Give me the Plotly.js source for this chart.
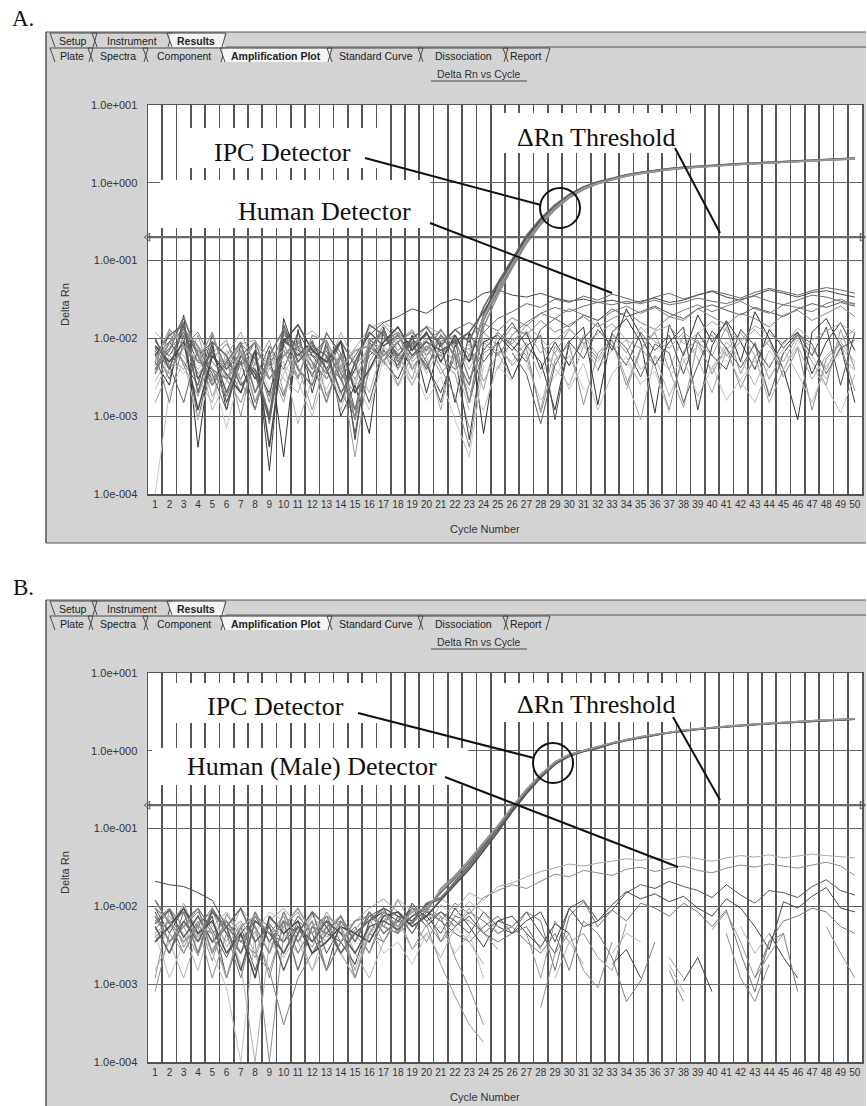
<!DOCTYPE html>
<html>
<head>
<meta charset="utf-8">
<script src="https://cdn.plot.ly/plotly-3.0.1.min.js"></script>
<style>
html,body{margin:0;padding:0;background:#ffffff;}
#chart{width:867px;height:1106px;}
</style>
</head>
<body>
<div id="chart"></div>
<script>
// ---------- categories / ticks ----------
const cycles = ["1","2","3","4","5","6","7","8","9","10","11","12","13","14","15","16","17","18","19","20",
"21","22","23","24","25","26","27","28","29","30","31","32","33","34","35","36","37","38","39","40",
"41","42","43","44","45","46","47","48","49","50"];
const yTickVals = [0.0001, 0.001, 0.01, 0.1, 1, 10];
const yTickText = ["1.0e-004","1.0e-003","1.0e-002","1.0e-001","1.0e+000","1.0e+001"];
const thresholdA = 0.2;
const thresholdB = 0.2;

// ---------- Panel A : Human detector / background wells ----------
const A_h1 = [.008,.006,.012,.005,.004,.003,.005,.004,.002,.009,
 .007,.006,.005,.003,.006,.011,.016,.019,.024,.021,
 .028,.032,.029,.038,.042,.036,.034,.038,.033,.030,
 .032,.029,.031,.028,.030,.033,.029,.031,.036,.040,
 .034,.031,.036,.042,.038,.034,.039,.041,.037,.034];
const A_h2 = [.004,.009,.018,.006,.003,.005,.002,.006,.0008,.012,
 .008,.004,.007,.002,.001,.009,.012,.007,.010,.006,
 .011,.008,.005,.009,.006,.011,.016,.021,.025,.022,
 .026,.029,.027,.030,.028,.031,.027,.029,.033,.030,
 .028,.032,.035,.030,.027,.031,.036,.034,.030,.028];
const A_h3 = [.007,.003,.011,.0009,.006,.004,.008,.003,.005,.0018,
 .009,.005,.003,.006,.0012,.007,.005,.009,.004,.008,
 .006,.010,.003,.007,.012,.008,.005,.013,.018,.014,
 .020,.017,.024,.019,.022,.026,.021,.018,.024,.027,
 .023,.020,.025,.022,.019,.024,.028,.025,.029,.026];
const A_n4 = [.005,.0025,.02,.0004,.008,.0015,.005,.0012,.007,.0003,
 .013,.002,.009,.001,.0025,.0006,.014,.004,.011,.002,
 .009,.0015,.012,.0006,.009,.003,.008,.005,.0012,.009,
 .014,.0014,.012,.018,.009,.0011,.015,.006,.020,.009,
 .016,.005,.022,.010,.004,.0009,.012,.018,.008,.0015];
const A_n5 = [.009,.006,.004,.011,.003,.0055,.001,.007,.004,.008,
 .0045,.0012,.006,.004,.0003,.005,.010,.0065,.003,.012,
 .005,.0035,.0007,null,.004,.010,.006,.0012,.008,.0045,
 .011,.006,null,.0022,.007,.012,.004,.0013,.009,.006,
 .014,.0035,.009,.003,.0065,.011,.005,.0025,.013,.004];
const A_n6 = [.012,.008,.006,.003,.0015,.007,.004,.009,.006,.003,
 .002,.007,.0035,.012,.005,.002,.008,.005,.0025,.006,
 .0012,.009,.004,.010,.0065,.003,null,.009,.004,.0025,
 .008,.005,.0095,.003,.0009,.006,.004,.011,.0055,.002,
 .007,.012,.006,.0015,.004,.008,.003,.006,.009,.005];
const A_n7 = [.0075,.004,.014,.006,.009,.0012,.006,.009,.0002,.018,
 .005,.0075,.004,.0095,.0005,.009,.005,.003,.008,.0045,
 .002,.006,.0005,.009,.011,.007,.012,.004,.009,.0045,
 .010,.016,.007,.024,.011,.0045,.009,.014,.0012,.008,
 .017,.009,.004,.013,.0075,.012,.0035,.009,.016,.007];
const A_n8 = [.006,.0035,.008,.012,.005,.003,.0015,.005,.003,.006,
 .010,.004,.012,.0055,.003,.007,.015,.009,.013,.006,
 .009,.011,.006,.012,.008,.014,.011,.017,.012,.015,
 .019,.014,.018,.022,.016,.013,.019,.017,.024,.019,
 .015,.021,.018,.014,.020,.023,.017,.021,.026,.019];
const A_n9 = [.0028,.006,.009,.004,.007,.0045,.008,.002,.004,.005,
 .0008,.003,.006,.0012,.005,.010,.007,.004,.009,.0035,
 .008,.005,.0012,null,.007,.005,.009,.003,null,.005,
 .0085,.004,.007,.0095,.004,.006,.0018,.005,.008,.004,
 .009,.0055,.0025,.007,.004,.0095,.006,.003,.008,.0045];
const A_n10 = [.0045,.0075,.011,.007,.0028,.005,.003,.007,.0045,.011,
 .008,.0065,.0095,.0035,.002,.006,.009,.012,.008,.011,
 .009,.013,.016,.012,.018,.022,.028,.025,.032,.029,
 .035,.031,.037,.033,.029,.034,.038,.032,.036,.041,
 .037,.033,.039,.044,.040,.036,.041,.045,.042,.038];
const A_n11 = [.006,.009,.005,.0025,.011,.004,.0065,.003,.008,.004,
 .012,.006,.0035,.009,.0045,.0015,.007,.0045,.010,.005,
 .0015,.008,.012,.005,.009,.016,.008,.011,.0009,.009,
 .0055,.013,.008,.0045,.012,.007,.011,.0035,.012,.006,
 .004,.013,.008,.0042,.009,.012,.006,.014,.0025,.012];
const A_n12 = [.0015,.004,.0075,.005,.009,.006,.012,.0045,.0095,.002,
 .0055,.0085,.003,.0065,.0025,.0085,.006,.011,.005,.008,
 .0035,.006,.0075,.0022,.012,.0085,.015,.010,.0065,.013,
 .009,.0055,.011,.0065,.014,.009,.0075,.012,.0085,.011,
 .006,.009,.013,.008,.005,.011,.0075,.004,.0095,.013];
const A_n13 = [.0001,.002,.005,.0009,.0035,.0007,.004,.006,.0022,.0045,
 .0028,.001,.0042,.0018,.003,.0012,.0055,.0024,.0048,.0016,
 .0032,.0009,.0003,.0045,null,null,.0048,.0016,.0033,.006,
 .0022,null,null,.005,.0026,.0038,.0011,null,null,.0045,
 .0016,.003,.0052,.002,null,null,.0042,.0024,.0011,.0034];
const A_n14 = [.0065,.0015,.0095,.0035,.0055,.0085,.0045,.0065,.0015,.0095,
 .0065,.0035,.0055,.0095,.0045,.0075,.0115,.0085,.0055,.0095,
 .0125,.0085,.0105,.0155,.0125,.0185,.0145,.021,.018,.024,
 .020,.017,.022,.026,.021,.025,.019,.023,.027,.022,
 .026,.030,.024,.021,.027,.025,.022,.028,.032,.027];
const A_n15 = [.0035,.012,.0045,.0018,.0065,.0095,.0028,.0012,.0055,.0085,
 .0032,.0095,.0018,.0045,.0009,.0038,.0075,.0025,.0062,.0095,
 .0042,.0018,.0004,.0065,.0085,.0045,.0075,.0011,.0052,.0085,
 .0014,.0065,.0095,.0025,.0075,.0045,.0012,.0068,.0095,.0035,
 .0078,.0023,.0058,.0095,.0032,.0075,.0012,.0055,.0085,.0021];
const A_n16 = [.0095,.0045,.0015,.0075,.0035,.0012,.0085,.0055,.0018,.0125,
 .0075,.0032,.0115,.0065,.0006,.0075,.0125,.0055,.0085,.0115,
 .0065,.0095,.0015,.0075,null,.0065,.0035,.0008,.0045,.0095,
 null,.0038,.0115,.0075,.0032,.0085,.0065,.0015,.0045,.0125,
 .0075,.0042,.0085,.0018,.0065,.0115,.0085,.0035,.0075,.0095];
const A_n17 = [.0055,.0085,.0125,.0075,.0018,.0045,.0085,.0095,.0045,.0015,
 .0095,.0125,.0085,.0045,.0075,.0135,.0165,.0115,.0075,.0145,
 .0115,.0055,.0085,.0028,.0065,.0095,.0125,.0065,.0095,.0135,
 .0085,.0115,.0155,.0095,.0075,.0125,.0145,.0085,.0115,.0165,
 .0125,.0095,.0145,.0115,.0085,.0135,.0095,.0125,.0155,.0115];
const A_n18 = [.0022,.0055,.0035,.0075,.0012,.0028,.0065,.0042,.0011,.0035,
 .0075,.0045,.0022,.0055,.0035,.0085,.0045,.0065,.0025,.0075,
 .0095,.0045,.0022,.0012,.0045,.0028,null,.0035,.0065,.0022,
 .0048,.0012,.0035,.0058,.0025,null,.0032,.0055,.0018,.0042,
 .0065,.0028,.0015,.0045,.0072,.0035,.0015,.0045,.0065,.0038];

// ---------- Panel A : IPC detector wells ----------
const A_ipc1 = [.006,.011,.015,.003,.007,.002,.006,.0035,.0009,.010,
 .006,.009,.004,.0015,.005,.012,.008,.011,.006,.009,
 .007,.009,.012,.022,.045,.095,.19,.32,.49,.68,
 .86,1.0,1.12,1.24,1.34,1.43,1.5,1.56,1.61,1.66,
 1.7,1.74,1.77,1.81,1.85,1.89,1.93,1.97,2.01,2.05];
const A_ipc2 = [.004,.007,.019,.006,.0025,.005,.009,.002,.006,.013,
 .004,.0025,.008,.003,.0012,.007,.013,.005,.009,.004,
 .011,.006,.0025,.017,.04,.085,.175,.30,.47,.66,
 .84,.98,1.1,1.22,1.32,1.41,1.48,1.54,1.6,1.65,
 1.69,1.73,1.76,1.8,1.84,1.88,1.92,1.96,2.0,2.04];
const A_ipc3 = [.008,.005,.009,.0012,.006,.0035,.002,.007,.0004,.009,
 .015,.007,.005,.009,.002,.004,.009,.014,.007,.012,
 .005,.011,.005,.02,.05,.10,.20,.34,.51,.70,
 .88,1.02,1.14,1.26,1.36,1.45,1.52,1.58,1.63,1.68,
 1.72,1.76,1.79,1.83,1.87,1.91,1.95,1.99,2.03,2.07];
const A_ipc4 = [.0035,.009,.013,.008,.004,.0018,.005,.009,.003,.006,
 .009,.005,.0015,.006,.0009,.010,.006,.009,.012,.007,
 .013,.007,.0015,.014,.036,.08,.165,.29,.45,.64,
 .82,.97,1.09,1.21,1.31,1.4,1.47,1.54,1.59,1.64,
 1.68,1.72,1.76,1.8,1.83,1.87,1.91,1.95,1.99,2.03];
const A_ipc5 = [.010,.004,.016,.002,.009,.006,.0025,.004,.001,.015,
 .005,.008,.006,.002,.004,.015,.011,.006,.010,.014,
 .008,.013,.009,.025,.052,.105,.21,.35,.52,.71,
 .89,1.03,1.15,1.27,1.37,1.46,1.53,1.59,1.64,1.69,
 1.73,1.77,1.8,1.84,1.88,1.92,1.96,2.0,2.04,2.08];
const A_ipc6 = [.005,.013,.008,.005,.012,.003,.007,.0015,.005,.007,
 .003,.011,.009,.004,.007,.008,.005,.012,.004,.008,
 .006,.004,.006,.019,.043,.09,.18,.31,.48,.67,
 .85,.99,1.11,1.23,1.33,1.42,1.49,1.55,1.6,1.65,
 1.69,1.73,1.77,1.81,1.85,1.89,1.93,1.97,2.01,2.05];

// ---------- Panel B : Human (Male) detector / background wells ----------
const B_h1 = [.007,.005,.011,.004,.009,.003,.006,.0025,.007,.005,
 .0035,.008,.004,.006,.0015,.006,.009,.005,.011,.007,
 .013,.009,.015,.012,.018,.020,.024,.028,.031,.035,
 .033,.036,.038,.041,.039,.042,.040,.044,.041,.038,
 .042,.045,.043,.046,.042,.044,.047,.045,.043,.042];
const B_h2 = [.005,.009,.003,.0065,.002,.008,.004,.0055,.0012,.0065,
 .005,.003,.0075,.0025,.005,.0085,.0055,.012,.006,.009,
 .0065,.011,.008,.013,.016,.019,.017,.021,.026,.024,
 .029,.027,.025,.030,.032,.028,.031,.033,.029,.027,
 .031,.034,.032,.035,.033,.031,.034,.037,.033,.025];
const B_h3 = [.0085,.0035,.0065,.0095,.005,.0022,.0055,.0015,.006,.0035,
 .0075,.0045,.0015,.0065,.0035,.0075,.0095,.0045,.011,.0065,
 .0085,.0055,.0075,.0045,.0065,.0055,.0085,.0045,.0025,.0095,
 .012,.0065,.009,.015,.019,.017,.021,.018,.016,.013,
 .019,.014,.011,.016,.015,.013,.018,.022,.016,.014];
const B_h4 = [.004,.0065,.0025,.006,.0085,.0045,.0012,.0065,.0045,.0075,
 .0025,.0055,.0075,.0035,.0055,.0025,.0065,.0085,.0045,.0095,
 .0035,.0075,.0065,.0045,.0035,.0045,.0085,.0065,.0015,.0075,
 .0115,.0055,.009,.0065,.011,.0095,.0075,.011,.0085,.0055,
 .009,.0025,.0008,.0035,.0065,.0075,.0095,.0085,.0055,.0045];
const B_h5 = [.0012,.009,.0055,.0023,.0085,.0065,.0025,.0048,.0015,.0055,
 .0085,.0035,.0055,.0025,.0045,.0068,.0035,.0075,.0028,.0058,
 .0018,.0007,.0003,.00018,null,null,.0045,.0012,.0065,.0035,
 .0045,.0022,.0015,.006,null,null,.0022,.0012,null,.005,
 .0085,.0035,.0012,.0024,.0045,null,null,.0055,.0025,.0012];
const B_h6 = [.0095,.0045,.0095,.0035,.0075,.0012,.0045,.0075,.0035,.0065,
 .0045,.0085,.0025,.0055,.0045,.0065,.0085,.0065,.0095,.0055,
 .0085,.0065,.0045,.0085,.0055,.0045,.0065,.0085,.0035,.0095,
 .0055,.0065,.0105,.0155,.0125,.0145,.0115,.0135,.0095,.0075,
 .0125,.0095,.0055,.0028,.0115,.0095,.0135,.0175,.0095,.0085];
const B_n7 = [.021,.019,.018,.015,.012,.0055,.0035,.0065,.0045,.0035,
 .0055,.0025,.0045,.0035,.0018,.0065,.0085,.0055,.0095,.0075,
 .0045,.0095,.0055,.003,.0065,.0075,.0045,.003,.006,.0045,
 null,null,.0018,.0028,.0012,null,null,.0011,.0022,.0008,
 null,null,null,.0045,.0022,.0012,null,null,null,null];
const B_n8 = [.0035,.0075,.0045,.0015,.0065,.0035,.0095,.0055,.0025,.0065,
 .0035,.0015,.0055,.0075,.0025,.0045,.0065,.0125,.0085,.0055,
 .0105,.0075,.0115,.0085,.0045,.0055,null,null,.0012,.0035,
 .0018,null,.0025,.0045,.0035,null,.0018,.0008,null,null,
 null,.0055,.0025,.0045,null,null,null,null,null,null];
const B_n9 = [.0008,.0045,.0025,.0055,.0012,.0045,.0065,.0035,.0001,.0045,
 .0025,.0055,.0035,.0065,.0045,.0025,.0085,.0045,.0065,.0035,
 .0075,.0022,.0009,.0003,null,null,null,.0005,.0025,.0045,
 .0015,.0009,.0035,null,null,null,.0015,.0006,null,null,
 .0045,.0012,.0006,.0018,null,null,null,null,null,null];
const B_n10 = [.0055,.0025,.0085,.0055,.0095,.0045,.0025,.0075,.0055,.0025,
 .0065,.0045,.0065,.0025,.0012,.0045,.0035,.0075,.0045,.0085,
 .0065,.0045,.0035,.0055,.0075,.0045,.0055,.0028,null,null,
 null,null,null,null,null,null,null,null,null,null,
 null,null,null,null,null,null,null,null,null,null];
const B_n11 = [.0045,.0012,.0035,.0075,.0025,.0009,.0001,.0045,.0085,.0065,
 .0035,.0075,.0045,.0025,.0012,.0055,.0025,.0035,.0018,.0045,
 .0055,.0025,.0045,.0012,null,null,null,null,null,null,
 null,null,null,null,null,null,null,null,null,null,
 null,null,null,null,null,null,null,null,null,null];
const B_n12 = [.0065,.0095,.0055,.0085,.0045,.0065,.0035,.0025,.0015,.0003,
 .0012,.0025,.0055,.0065,.0035,.0085,.0055,.0045,.0095,.0065,
 .0035,.0055,.0085,.0065,.0045,.0055,.0035,.0025,.0045,.0015,
 .0065,.0045,.0022,.0006,.0011,.0035,null,null,null,null,
 null,null,.0012,.0035,.0045,.0008,null,null,null,null];
const B_n13 = [.0045,.0065,.0095,.0035,.0055,.0085,.0045,.0022,.0065,.0095,
 .0055,.0035,.0085,.0045,.0065,.0095,.0125,.0085,.0065,.0095,
 .0075,.0055,.0095,.0045,.0028,null,null,null,null,null,
 null,null,null,null,null,null,null,null,null,null,
 null,null,null,null,null,null,null,null,null,null];
const B_n14 = [.0015,.0035,.0012,.0045,.0028,.0055,.0018,.0001,.0035,.0022,
 .0045,.0015,.0035,.0055,.0025,.0012,.0035,.0065,.0028,.0045,
 .0022,.0055,.0035,.0018,null,null,null,null,null,null,
 null,null,null,null,null,null,null,null,null,null,
 null,null,null,null,null,null,null,null,null,null];

// ---------- Panel B : IPC detector wells ----------
const B_ipc1 = [.006,.009,.004,.0075,.0035,.0055,.0015,.0065,.0045,.0025,
 .0055,.0035,.0065,.0045,.0025,.0055,.0065,.005,.0075,.0095,
 .015,.023,.037,.062,.105,.185,.31,.49,.71,.89,
 1.01,1.12,1.26,1.39,1.51,1.61,1.73,1.83,1.91,1.99,
 2.06,2.13,2.19,2.26,2.31,2.37,2.43,2.48,2.53,2.57];
const B_ipc2 = [.012,.006,.0085,.0025,.0095,.0045,.0025,.0085,.0035,.0065,
 .0015,.0055,.0045,.0075,.0035,.0085,.0045,.0065,.006,.011,
 .013,.02,.032,.056,.095,.17,.29,.46,.68,.86,
 .99,1.09,1.24,1.37,1.49,1.59,1.71,1.81,1.89,1.97,
 2.04,2.11,2.17,2.24,2.29,2.35,2.41,2.46,2.51,2.55];
const B_ipc3 = [.0035,.0055,.0095,.0045,.0065,.0025,.0045,.0012,.0075,.0045,
 .0065,.0025,.0035,.0055,.0045,.0035,.0075,.0085,.0055,.0075,
 .012,.019,.03,.052,.09,.165,.28,.45,.67,.85,
 .98,1.08,1.23,1.36,1.48,1.58,1.7,1.8,1.88,1.96,
 2.03,2.1,2.16,2.23,2.28,2.34,2.4,2.45,2.5,2.54];
const B_ipc4 = [.0075,.0035,.0055,.0095,.0025,.0065,.0035,.0055,.0025,.0085,
 .0035,.0065,.0015,.0035,.0065,.0075,.0055,.0045,.0095,.0085,
 .017,.025,.04,.066,.11,.19,.32,.50,.72,.90,
 1.02,1.13,1.27,1.4,1.52,1.62,1.74,1.84,1.92,2.0,
 2.07,2.14,2.2,2.27,2.32,2.38,2.44,2.49,2.54,2.58];
const B_ipc5 = [.0055,.0025,.0065,.0035,.0085,.0055,.0095,.0035,.0055,.0015,
 .0045,.0085,.0055,.0025,.0045,.0065,.0095,.0075,.0065,.0105,
 .0125,.021,.034,.058,.098,.175,.295,.47,.69,.87,
 1.0,1.1,1.25,1.38,1.5,1.6,1.72,1.82,1.9,1.98,
 2.05,2.12,2.18,2.25,2.3,2.36,2.42,2.47,2.52,2.56];
const B_ipc6 = [.0095,.0065,.0035,.0055,.0045,.0012,.0055,.0075,.0045,.0055,
 .0095,.0045,.0075,.0055,.0012,.0045,.0085,.0055,.0085,.0095,
 .016,.024,.039,.064,.108,.19,.315,.495,.715,.895,
 1.015,1.125,1.265,1.395,1.515,1.615,1.735,1.835,1.915,1.995,
 2.065,2.135,2.195,2.265,2.315,2.375,2.435,2.485,2.535,2.575];

// ---------- text ----------
const tabsRow1 = ["Setup","Instrument","Results"];
const tabsRow2 = ["Plate","Spectra","Component","Amplification Plot","Standard Curve","Dissociation","Report"];
const plotTitle = "Delta Rn vs Cycle";
const xTitle = "Cycle Number";
const yTitle = "Delta Rn";

// ---------- build ----------
const W = 867, H = 1106;
const X = p => p / W;
const Y = p => 1 - p / H;
const OFF = 568; // vertical offset of panel B
const PL = 148, PR = 862, PT = 105, PB = 494; // plotting area of panel A (px)

const seriesA = [
  [A_h1,'#4a4a4a',1],[A_h2,'#6e6e6e',1],[A_h3,'#5c5c5c',1],[A_n4,'#333333',1],
  [A_n5,'#9a9a9a',1],[A_n6,'#ababab',1],[A_n7,'#3d3d3d',1],[A_n8,'#858585',1],
  [A_n9,'#b8b8b8',1],[A_n10,'#666666',1],[A_n11,'#505050',1],[A_n12,'#9c9c9c',1],
  [A_n13,'#c6c6c6',1],[A_n14,'#7a7a7a',1],[A_n15,'#8e8e8e',1],[A_n16,'#5e5e5e',1],
  [A_n17,'#a2a2a2',1],[A_n18,'#bdbdbd',1],
  [A_ipc1,'#5e5e5e',1.5],[A_ipc2,'#7a7a7a',1.5],[A_ipc3,'#4a4a4a',1.5],
  [A_ipc4,'#8a8a8a',1.5],[A_ipc5,'#666666',1.5],[A_ipc6,'#999999',1.5]
];
const seriesB = [
  [B_h1,'#a8a8a8',1],[B_h2,'#8c8c8c',1],[B_h3,'#555555',1],[B_h4,'#777777',1],
  [B_h5,'#9a9a9a',1],[B_h6,'#4a4a4a',1],[B_n7,'#444444',1],[B_n8,'#b5b5b5',1],
  [B_n9,'#8f8f8f',1],[B_n10,'#6a6a6a',1],[B_n11,'#c2c2c2',1],[B_n12,'#7d7d7d',1],
  [B_n13,'#9e9e9e',1],[B_n14,'#b0b0b0',1],
  [B_ipc1,'#5e5e5e',1.5],[B_ipc2,'#7a7a7a',1.5],[B_ipc3,'#4a4a4a',1.5],
  [B_ipc4,'#8a8a8a',1.5],[B_ipc5,'#666666',1.5],[B_ipc6,'#999999',1.5]
];

const traces = [];
function addSeries(list, xa, ya) {
  list.forEach(s => traces.push({
    type: 'scatter', mode: 'lines', x: cycles, y: s[0], xaxis: xa, yaxis: ya,
    line: {color: s[1], width: s[2]}, connectgaps: false, hoverinfo: 'skip', showlegend: false
  }));
}
addSeries(seriesA, 'x', 'y');
addSeries(seriesB, 'x2', 'y2');

// threshold lines, drawn as traces on hidden numeric axes that overlay the category axes
function addThreshold(val, xa, ya) {
  traces.push({type: 'scatter', mode: 'lines+markers', x: [-0.5, 49.5], y: [val, val], xaxis: xa, yaxis: ya,
    line: {color: '#6a6a6a', width: 2.2}, cliponaxis: false, hoverinfo: 'skip', showlegend: false,
    marker: {symbol: ['triangle-left-open', 'triangle-right-open'], size: 7, color: '#555', line: {width: 1, color: '#555'}}});
}
addThreshold(thresholdA, 'x3', 'y');
addThreshold(thresholdB, 'x4', 'y2');

const sansFont = 'Liberation Sans, Arial, sans-serif';
const serifFont = 'Liberation Serif, Times New Roman, serif';

function xAxis(anchor) {
  return {
    domain: [X(PL), X(PR)], anchor: anchor, type: 'category', categoryarray: cycles,
    range: [-0.5, 49.5], tickson: 'boundaries', tickmode: 'linear', dtick: 1, tickangle: 0,
    showgrid: true, gridcolor: '#555555', gridwidth: 1.7,
    showline: true, mirror: true, linecolor: '#555', linewidth: 1.5,
    ticks: 'outside', ticklen: 5, tickcolor: 'rgba(0,0,0,0)',
    tickfont: {family: sansFont, size: 10, color: '#333'}, fixedrange: true, zeroline: false
  };
}
function xOver(over, anchor) {
  return {overlaying: over, anchor: anchor, type: 'linear', range: [-0.5, 49.5], visible: false,
    showgrid: false, zeroline: false, fixedrange: true};
}
function yAxis(anchor, top, bottom) {
  return {
    domain: [Y(bottom), Y(top)], anchor: anchor, type: 'log', range: [-4, 1],
    tickmode: 'array', tickvals: yTickVals, ticktext: yTickText,
    showgrid: true, gridcolor: '#666666', gridwidth: 1.3,
    showline: true, mirror: true, linecolor: '#555', linewidth: 1.5,
    ticks: 'outside', ticklen: 7, tickcolor: 'rgba(0,0,0,0)',
    tickfont: {family: sansFont, size: 11, color: '#333'}, fixedrange: true, zeroline: false
  };
}

const shapes = [];
const annotations = [];

function rectPx(x0, y0, x1, y1, fill, layer) {
  shapes.push({type: 'rect', xref: 'paper', yref: 'paper', x0: X(x0), x1: X(x1), y0: Y(y1), y1: Y(y0),
    fillcolor: fill, line: {width: 0}, layer: layer || 'above'});
}
function linePx(x0, y0, x1, y1, color, w, layer) {
  shapes.push({type: 'line', xref: 'paper', yref: 'paper', x0: X(x0), y0: Y(y0), x1: X(x1), y1: Y(y1),
    line: {color: color, width: w}, layer: layer || 'above'});
}
function textPx(x, y, txt, size, family, color, xanchor, extra) {
  annotations.push(Object.assign({xref: 'paper', yref: 'paper', x: X(x), y: Y(y), text: txt, showarrow: false,
    xanchor: xanchor || 'center', yanchor: 'middle', font: {family: family, size: size, color: color || '#222'}}, extra || {}));
}
// a tab: top edge, "\" left edge, "/" right edge
function tabPx(xl, xr, top, bottom, active) {
  if (active) rectPx(xl - 2, top + 0.5, xr - 2, bottom, '#f4f4f4', 'below');
  linePx(xl - 5, top, xl, bottom, '#4a4a4a', 1, 'below');
  linePx(xl - 5, top, xr, top, '#4a4a4a', 1, 'below');
  linePx(xr, top, xr - 4, bottom, '#4a4a4a', 1, 'below');
}

function panel(off, letter, cfg) {
  // gray window drawn as bands around the white plotting area
  const gray = '#d3d3d3';
  rectPx(46, 32 + off, 866, PT + off, gray, 'below');
  rectPx(46, PB + off, 866, 543 + off, gray, 'below');
  rectPx(46, PT + off, PL, PB + off, gray, 'below');
  rectPx(PR, PT + off, 866, PB + off, gray, 'below');
  linePx(46, 32 + off, 866, 32 + off, '#555', 1, 'below');
  linePx(46, 543 + off, 866, 543 + off, '#555', 1, 'below');
  linePx(46, 32 + off, 46, 543 + off, '#555', 1.5, 'below');
  textPx(23, 19 + off, letter, 23, serifFont, '#111');
  // tab rows
  const r1 = [[55, 97], [97, 172], [172, 226]];
  const r2 = [[55, 93], [93, 148], [148, 225], [225, 332], [332, 423], [423, 508], [508, 550]];
  r1.forEach((t, i) => tabPx(t[0], t[1], 33 + off, 47 + off, i === 2));
  r2.forEach((t, i) => tabPx(t[0], t[1], 48 + off, 62 + off, i === 3));
  linePx(226, 47 + off, 866, 47 + off, '#555', 1, 'below');
  const c1 = [73, 132, 196];
  tabsRow1.forEach((t, i) => textPx(c1[i], 41 + off, i === 2 ? '<b>' + t + '</b>' : t, 10.5, sansFont, '#222'));
  const c2 = [72, 118, 184, 276, 376, 463, 526];
  tabsRow2.forEach((t, i) => textPx(c2[i], 56 + off, i === 3 ? '<b>' + t + '</b>' : t, 10.5, sansFont, '#222'));
  // chart title
  textPx(479, 74 + off, plotTitle, 10.5, sansFont, '#333');
  linePx(431, 81 + off, 527, 81 + off, '#444', 1, 'below');
  // axis titles
  textPx(485, 529 + off, xTitle, 11, sansFont, '#333');
  textPx(65, 305 + off, yTitle, 11, sansFont, '#333', 'center', {textangle: -90});
  // label boxes
  cfg.boxes.forEach(b => rectPx(b[0], b[1] + off, b[2], b[3] + off, '#ffffff', 'above'));
  // leader lines
  cfg.leaders.forEach(l => linePx(l[0], l[1] + off, l[2], l[3] + off, '#111', 2, 'above'));
  shapes.push({type: 'circle', xref: 'paper', yref: 'paper', x0: X(cfg.circle[0] - 20), x1: X(cfg.circle[0] + 20),
    y0: Y(cfg.circle[1] + off + 20), y1: Y(cfg.circle[1] + off - 20), fillcolor: 'rgba(255,255,255,0)',
    line: {color: '#111', width: 2}, layer: 'above'});
  cfg.labels.forEach(l => textPx(l[0], l[1] + off, l[2], 26, serifFont, '#111'));
}

panel(0, 'A.', {
  boxes: [[184, 128, 380, 168], [160, 180, 430, 228], [497, 113, 698, 153]],
  leaders: [[365, 158, 541, 205], [430, 223, 612, 293], [675, 148, 720, 233]],
  circle: [560, 208],
  labels: [[282, 152, 'IPC Detector'], [324, 211, 'Human Detector'], [596, 137, '\u0394Rn Threshold']]
});
panel(OFF, 'B.', {
  boxes: [[170, 683 - OFF, 380, 723 - OFF], [152, 748 - OFF, 468, 785 - OFF], [497, 683 - OFF, 698, 722 - OFF]],
  leaders: [[358, 713 - OFF, 534, 758 - OFF], [445, 777 - OFF, 678, 867 - OFF], [673, 717 - OFF, 720, 800 - OFF]],
  circle: [553, 763 - OFF],
  labels: [[275, 706 - OFF, 'IPC Detector'], [312, 766 - OFF, 'Human (Male) Detector'], [596, 704 - OFF, '\u0394Rn Threshold']]
});

// white plotting areas, drawn last in the lower shape layer (beneath grid and traces)
rectPx(PL, PT, PR, PB, '#ffffff', 'below');
rectPx(PL, PT + OFF, PR, PB + OFF, '#ffffff', 'below');

const layout = {
  width: W, height: H, margin: {l: 0, r: 0, t: 0, b: 0, pad: 0},
  paper_bgcolor: '#ffffff', plot_bgcolor: '#fffffe', showlegend: false,
  xaxis: xAxis('y'), yaxis: yAxis('x', PT, PB),
  xaxis2: xAxis('y2'), yaxis2: yAxis('x2', PT + OFF, PB + OFF),
  xaxis3: xOver('x', 'y'), xaxis4: xOver('x2', 'y2'),
  shapes: shapes, annotations: annotations
};

Plotly.newPlot('chart', traces, layout, {staticPlot: true, displayModeBar: false});
</script>
</body>
</html>
